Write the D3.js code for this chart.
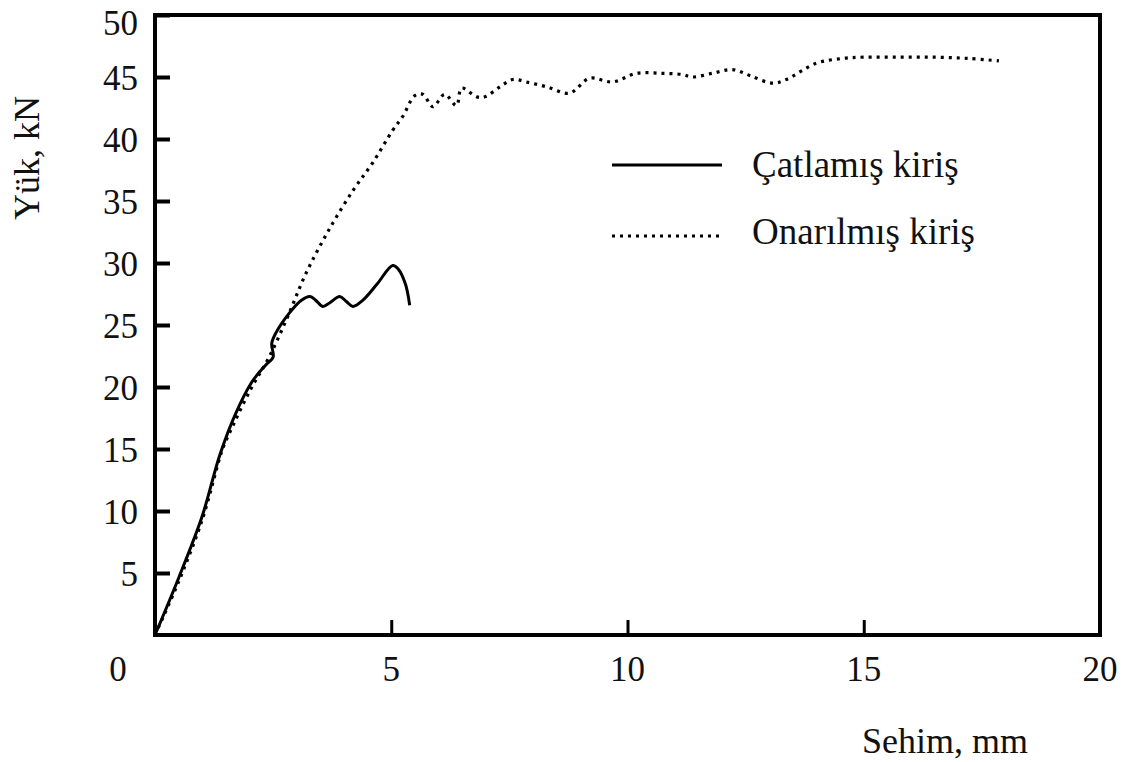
<!DOCTYPE html>
<html>
<head>
<meta charset="utf-8">
<script src="https://cdn.jsdelivr.net/npm/d3@7"></script>
<style>
  html, body { margin: 0; padding: 0; background: #fff; }
  svg text { font-family: "Liberation Serif", "DejaVu Serif", serif; fill: #111; }
</style>
</head>
<body>
<svg id="chart" width="1132" height="762"></svg>
<script>
// deflection (mm) / load (kN)
const crackedX = [0, 0.5, 1.0, 1.37, 1.7, 2.05, 2.35, 2.5, 2.47, 2.55, 2.85, 3.1, 3.28, 3.4, 3.55, 3.7, 3.91, 4.05, 4.19, 4.4, 4.7, 5.03, 5.15, 5.3, 5.39];
const crackedY = [0, 4.6, 9.6, 14.5, 17.8, 20.4, 21.8, 22.4, 23.5, 24.3, 26.0, 27.0, 27.3, 27.0, 26.5, 26.8, 27.3, 26.9, 26.5, 27.0, 28.3, 29.8, 29.5, 28.3, 26.6];

const repairedX = [0, 0.5, 1.0, 1.37, 1.45, 1.7, 2.05, 2.4, 2.8, 3.2, 3.7, 4.2, 4.61, 5.03, 5.24, 5.5, 5.67, 5.88, 6.13, 6.38, 6.49, 6.81, 6.98, 7.3, 7.57, 7.86, 8.3, 8.77, 9.2, 9.68, 10.19, 10.7, 11.16, 11.37, 11.8, 12.22, 12.6, 13.07, 13.36, 13.99, 14.55, 15.0, 15.75, 16.5, 17.2, 17.86];
const repairedY = [0, 4.3, 9.3, 14.3, 15.2, 17.3, 20.0, 22.3, 25.6, 29.2, 32.8, 35.9, 38.1, 40.7, 41.8, 43.5, 43.6, 42.6, 43.6, 42.7, 44.1, 43.4, 43.4, 44.2, 44.8, 44.6, 44.2, 43.7, 44.9, 44.6, 45.3, 45.3, 45.2, 45.0, 45.3, 45.6, 45.1, 44.5, 44.8, 46.1, 46.5, 46.6, 46.6, 46.6, 46.5, 46.3];

const xTicks = [5, 10, 15, 20];
const yTicks = [5, 10, 15, 20, 25, 30, 35, 40, 45, 50];

const seriesNames = ["Çatlamış kiriş", "Onarılmış kiriş"];

const svg = d3.select("#chart");
const mLeft = 155, mRight = 1100, mTop = 15, mBottom = 635;

const x = d3.scaleLinear().domain([0, 20]).range([mLeft, mRight]);
const y = d3.scaleLinear().domain([0, 50]).range([mBottom, mTop]);

// frame
svg.append("rect")
  .attr("x", mLeft).attr("y", mTop)
  .attr("width", mRight - mLeft).attr("height", mBottom - mTop)
  .attr("fill", "none").attr("stroke", "#000").attr("stroke-width", 4);

// y axis, ticks point inward
const yAxis = svg.append("g")
  .attr("transform", `translate(${mLeft},0)`)
  .call(d3.axisRight(y).tickValues(yTicks).tickSize(15).tickFormat(""));
yAxis.select(".domain").remove();
yAxis.selectAll("line").attr("stroke", "#000").attr("stroke-width", 4);

svg.append("g").selectAll("text")
  .data(yTicks)
  .join("text")
  .attr("x", 138)
  .attr("y", d => Math.max(y(d) + 13, 35))
  .attr("text-anchor", "end")
  .attr("font-size", 35)
  .text(d => d);

// x axis, ticks point up
const xAxis = svg.append("g")
  .attr("transform", `translate(0,${mBottom})`)
  .call(d3.axisTop(x).tickValues(xTicks.slice(0, 3)).tickSize(15).tickFormat(""));
xAxis.select(".domain").remove();
xAxis.selectAll("line").attr("stroke", "#000").attr("stroke-width", 3);

svg.append("g").selectAll("text")
  .data(xTicks)
  .join("text")
  .attr("x", d => x(d))
  .attr("y", 681)
  .attr("text-anchor", "middle")
  .attr("font-size", 35)
  .text(d => d);

// shared origin label
svg.append("text")
  .attr("x", 118).attr("y", 681)
  .attr("text-anchor", "middle")
  .attr("font-size", 35)
  .text("0");

// axis titles
svg.append("text")
  .attr("transform", "translate(39,158) rotate(-90)")
  .attr("text-anchor", "middle")
  .attr("font-size", 36)
  .text("Yük, kN");

svg.append("text")
  .attr("x", 1028).attr("y", 753)
  .attr("text-anchor", "end")
  .attr("font-size", 36)
  .text("Sehim, mm");

// curves
const line = d3.line().curve(d3.curveCatmullRom.alpha(0.5));

svg.append("path")
  .attr("d", line(repairedX.map((v, i) => [x(v), y(repairedY[i])])))
  .attr("fill", "none")
  .attr("stroke", "#000")
  .attr("stroke-width", 3.2)
  .attr("stroke-dasharray", "3,5");

svg.append("path")
  .attr("d", line(crackedX.map((v, i) => [x(v), y(crackedY[i])])))
  .attr("fill", "none")
  .attr("stroke", "#000")
  .attr("stroke-width", 3);

// legend
const legend = svg.append("g");
const legendRows = [
  { name: seriesNames[0], dash: null, ly: 165, ty: 177 },
  { name: seriesNames[1], dash: "3,5", ly: 236, ty: 244 }
];
legendRows.forEach(r => {
  legend.append("line")
    .attr("x1", 612).attr("x2", 722)
    .attr("y1", r.ly).attr("y2", r.ly)
    .attr("stroke", "#000")
    .attr("stroke-width", r.dash ? 3.2 : 3)
    .attr("stroke-dasharray", r.dash);
  legend.append("text")
    .attr("x", 752).attr("y", r.ty)
    .attr("font-size", 37)
    .text(r.name);
});
</script>
</body>
</html>
